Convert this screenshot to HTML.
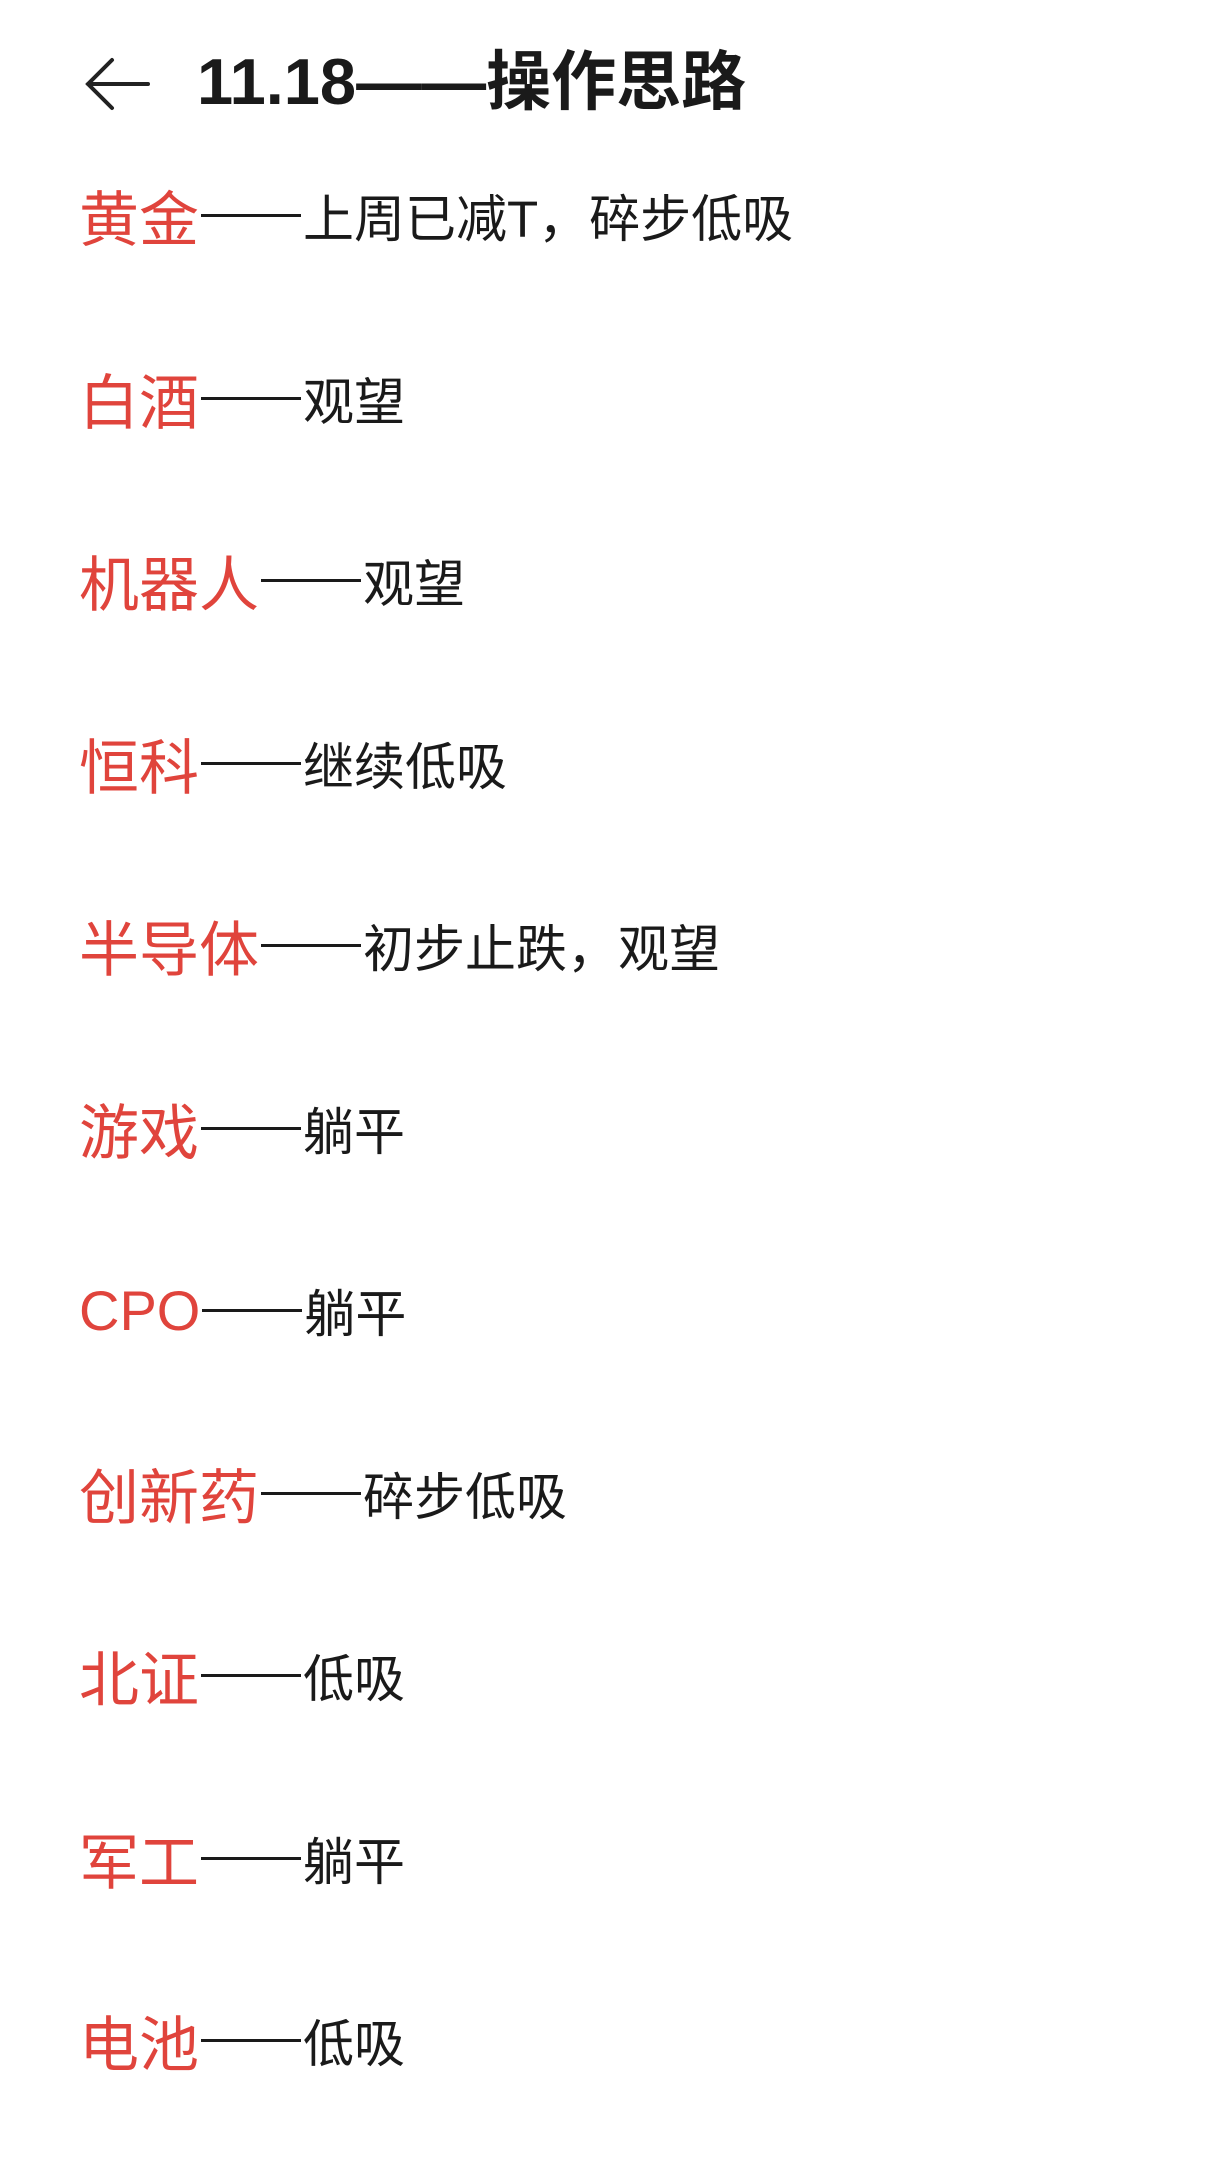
<!DOCTYPE html>
<html><head><meta charset="utf-8"><style>
html,body{margin:0;padding:0;background:#fff;}
body{width:1221px;height:2158px;position:relative;overflow:hidden;font-family:"Liberation Sans","Noto Sans CJK SC",sans-serif;}
.title{position:absolute;left:197px;top:42px;font-size:65px;line-height:80px;color:#1a1a1a;font-weight:bold;white-space:nowrap;}
.row{position:absolute;left:79px;height:80px;display:flex;align-items:center;white-space:nowrap;}
.l{color:#e0443c;font-size:60px;}
.d{display:inline-block;width:100px;height:3px;background:#1a1a1a;margin:0 2px;}
.t{color:#1a1a1a;font-size:51px;}
</style></head><body>
<svg style="position:absolute;left:82px;top:56px" width="72" height="56" viewBox="0 0 72 56"><path d="M30 4 L6 28 L30 52 M6 28 L66 28" fill="none" stroke="#222" stroke-width="4" stroke-linecap="round"/></svg>
<div class="title">11.18——操作思路</div>
<div class="row" style="top:175px"><span class="l">黄金</span><span class="d"></span><span class="t">上周已减T，碎步低吸</span></div>
<div class="row" style="top:358px"><span class="l">白酒</span><span class="d"></span><span class="t">观望</span></div>
<div class="row" style="top:540px"><span class="l">机器人</span><span class="d"></span><span class="t">观望</span></div>
<div class="row" style="top:723px"><span class="l">恒科</span><span class="d"></span><span class="t">继续低吸</span></div>
<div class="row" style="top:905px"><span class="l">半导体</span><span class="d"></span><span class="t">初步止跌，观望</span></div>
<div class="row" style="top:1088px"><span class="l">游戏</span><span class="d"></span><span class="t">躺平</span></div>
<div class="row" style="top:1270px"><span class="l" style="font-size:56px">CPO</span><span class="d"></span><span class="t">躺平</span></div>
<div class="row" style="top:1453px"><span class="l">创新药</span><span class="d"></span><span class="t">碎步低吸</span></div>
<div class="row" style="top:1635px"><span class="l">北证</span><span class="d"></span><span class="t">低吸</span></div>
<div class="row" style="top:1818px"><span class="l">军工</span><span class="d"></span><span class="t">躺平</span></div>
<div class="row" style="top:2000px"><span class="l">电池</span><span class="d"></span><span class="t">低吸</span></div>
</body></html>
